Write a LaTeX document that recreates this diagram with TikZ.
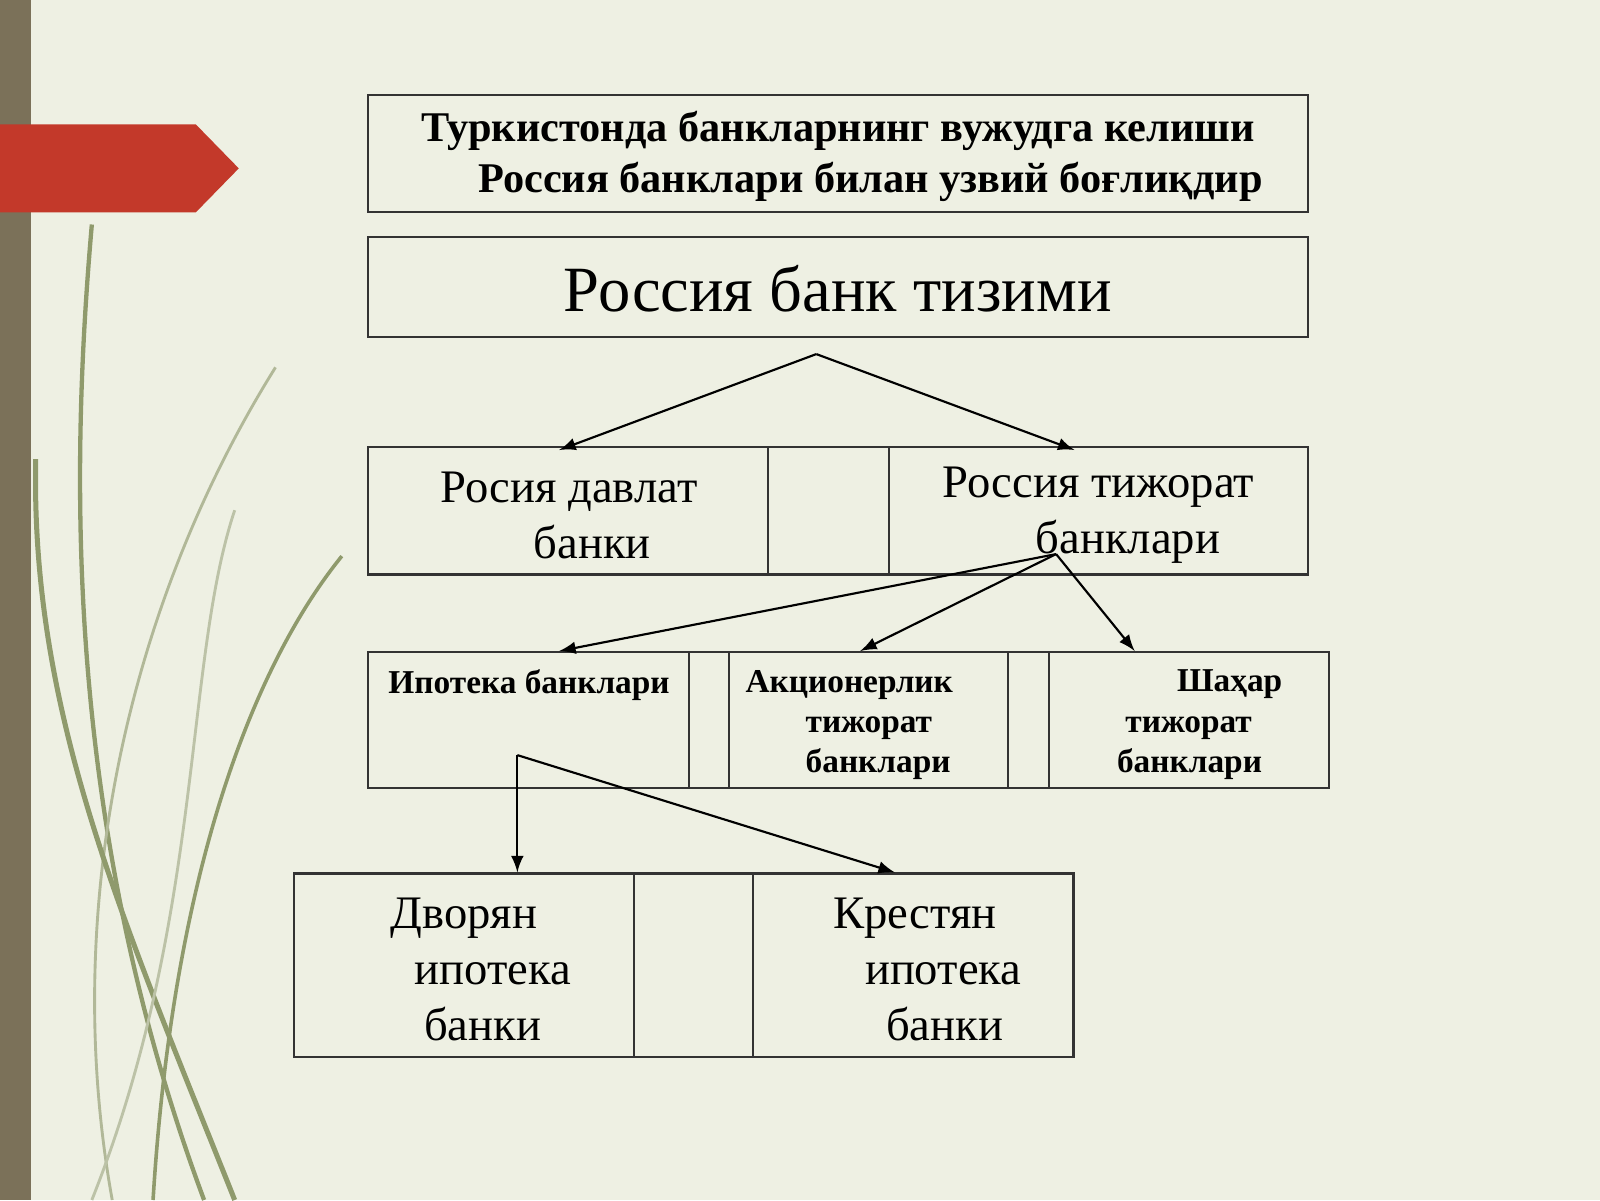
\documentclass[tikz,border=0pt]{standalone}
\usepackage{fontspec}
\setmainfont{Liberation Serif}
\usetikzlibrary{calc}
\definecolor{bgcol}{HTML}{EEF0E3}
\definecolor{barcol}{HTML}{7B7159}
\definecolor{arrowred}{HTML}{C3392A}
\definecolor{grass}{HTML}{8F9A6C}
\begin{document}
\begin{tikzpicture}[x=0.1mm, y=-0.1mm]
    \tikzstyle{box} = [draw=black!80, line width=0.6pt]
    \tikzstyle{link} = [line width=0.6pt, -latex]
    \tikzstyle{big} = [font=\fontsize{18}{20}\selectfont]
    \tikzstyle{mid} = [font=\fontsize{13}{15.5}\selectfont, align=left, anchor=west, inner sep=0pt]
    \tikzstyle{small} = [font=\bfseries\fontsize{9.3}{11.2}\selectfont, align=left, anchor=north west, inner sep=0pt]
    \tikzstyle{head} = [font=\bfseries\fontsize{11.8}{14.2}\selectfont, align=left, anchor=west, inner sep=0pt]

    % Background ----------------------------------------
    \fill[bgcol] (0,0) rectangle (1568,1176);
    \useasboundingbox (0,0) rectangle (1568,1176);
    \fill[barcol] (0,0) rectangle (30,1176);
    \fill[arrowred] (0,122) -- (192,122) -- (234,165) -- (192,208) -- (0,208) -- cycle;

    % grass
    \draw[grass, line width=1.2pt] (200,1176) .. controls (60,800) and (70,450) .. (90,220);
    \draw[grass, line width=1pt] (150,1176) .. controls (170,850) and (250,650) .. (335,545);
    \draw[grass!70, line width=0.8pt] (110,1176) .. controls (60,900) and (120,600) .. (270,360);
    \draw[grass, line width=1.4pt] (230,1176) .. controls (120,900) and (30,700) .. (35,450);
    \draw[grass!60, line width=0.8pt] (90,1176) .. controls (200,900) and (180,650) .. (230,500);

    % Title boxes ---------------------------------------
    \draw[box] (361,93) rectangle (1282,208);
    \node[head] (title) at (412,153) {Туркистонда банкларнинг вужудга келиши\\
        \hspace*{1.35em}Россия банклари билан узвий боғлиқдир};
    \draw[box] (361,232) rectangle (1282,330);
    \node[big] (system) at (821,283) {Россия банк тизими};
    \coordinate (top) at (800,347);

    % Second row ----------------------------------------
    \draw[box] (361,438) rectangle (753,563);
    \draw[box] (753,438) rectangle (871,563);
    \draw[box] (871,438) rectangle (1282,563);
    \node[mid] (state) at (431,505) {Росия давлат\\ \hspace*{2em}банки};
    \node[mid] (comm) at (923,505) {Россия тижорат\\ \hspace*{2em}банклари};
    \coordinate (stateIn) at (548,441);
    \coordinate (commIn) at (1053,441);
    \coordinate (commOut) at (1035,543);

    \draw[link] (top) -- (stateIn);
    \draw[link] (top) -- (commIn);

    % Third row -----------------------------------------
    \draw[box] (361,639) rectangle (675,772);
    \draw[box] (675,639) rectangle (714,772);
    \draw[box] (714,639) rectangle (988,772);
    \draw[box] (988,639) rectangle (1028,772);
    \draw[box] (1028,639) rectangle (1302,772);
    \node[small] (mortgage) at (380,656) {Ипотека банклари};
    \node[small] (joint) at (730,656) {Акционерлик\\ \hspace*{1.8em}тижорат\\ \hspace*{1.8em}банклари};
    \node[small] (city) at (1094,656) {\hspace*{1.8em}Шаҳар\\ \hspace*{0.25em}тижорат\\ банклари};
    \coordinate (mortIn) at (548,638);
    \coordinate (jointIn) at (843,638);
    \coordinate (cityIn) at (1112,638);
    \coordinate (mortOut) at (507,740);

    \draw[link] (commOut) -- (mortIn);
    \draw[link] (commOut) -- (jointIn);
    \draw[link] (commOut) -- (cityIn);

    % Fourth row ----------------------------------------
    \draw[box] (288,856) rectangle (621,1036);
    \draw[box] (621,856) rectangle (738,1036);
    \draw[box] (738,856) rectangle (1052,1036);
    \node[mid] (noble) at (382,950) {Дворян\\ \hspace*{0.52em}ипотека\\ \hspace*{0.72em}банки};
    \node[mid] (peasant) at (816,950) {Крестян\\ \hspace*{0.68em}ипотека\\ \hspace*{1.13em}банки};
    \coordinate (nobleIn) at (507,855);
    \coordinate (peasIn) at (877,855);

    \draw[link] (mortOut) -- (nobleIn);
    \draw[link] (mortOut) -- (peasIn);
\end{tikzpicture}
\end{document}
